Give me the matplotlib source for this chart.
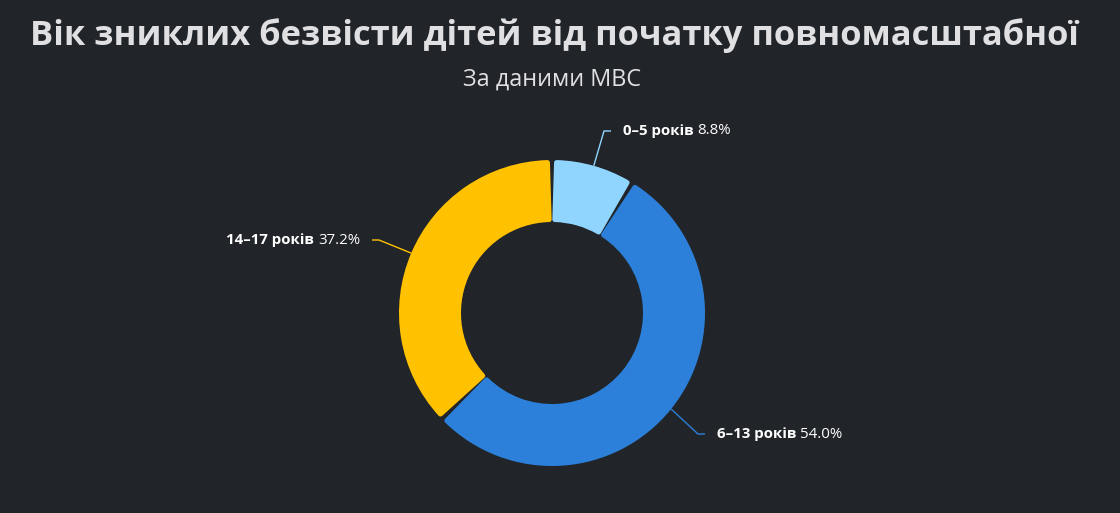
import matplotlib.pyplot as plt
import numpy as np

# Data
categories = ["0–5 років", "6–13 років", "14–17 років"]
shares = [8.8, 54.0, 37.2]
colors = ["#8fd5fe", "#2c80d9", "#ffc100"]

title = "Вік зниклих безвісти дітей від початку повномасштабної"
subtitle = "За даними МВС"

BG = "#212428"
TXT = "#e0e0e3"
plt.rcParams['font.family'] = ['Open Sans', 'DejaVu Sans']

W, H = 1120, 513
fig = plt.figure(figsize=(W / 100, H / 100), dpi=100, facecolor=BG)
ax = fig.add_axes([0, 0, 1, 1])
ax.set_facecolor(BG)

cx, cy = 552, H - 313
r_out, ring = 153, 62

wedges, _ = ax.pie(shares, colors=colors, startangle=90, counterclock=False,
                   radius=r_out, center=(cx, cy), frame=True,
                   wedgeprops=dict(width=ring))
ax.set_xlim(0, W)
ax.set_ylim(0, H)
ax.axis("off")

# rounded corners + small gaps between slices
e = 2.5
for w in wedges:
    t1, t2 = w.theta1, w.theta2
    d = np.degrees((1.2 + e) / (r_out - ring / 2))
    w.set_theta1(t1 + d)
    w.set_theta2(t2 - d)
    w.set_radius(r_out - e)
    w.set_width(ring - 2 * e)
    w.set_edgecolor(w.get_facecolor())
    w.set_linewidth(2 * e * 72 / 100)
    w.set_joinstyle("round")

# label positions (pixel layout)
label_pos = [(611, H - 131, "left"), (705, H - 434, "left"), (372, H - 240, "right")]
fig.canvas.draw()
renderer = fig.canvas.get_renderer()
for w, cat, val, col, (lx, ly, side) in zip(wedges, categories, shares, colors, label_pos):
    ang = np.radians((w.theta1 + w.theta2) / 2)
    px = cx + r_out * np.cos(ang)
    py = cy + r_out * np.sin(ang)
    sgn = 1 if side == "left" else -1
    ex = lx - sgn * 7
    ax.plot([px, ex, lx], [py, ly, ly], color=col, lw=1, solid_capstyle="butt")
    tx = lx + sgn * 12
    if side == "left":
        t1 = ax.text(tx, ly, cat, color="white", fontsize=10.8, fontweight="bold",
                     ha="left", va="center")
        bb = t1.get_window_extent(renderer)
        ax.text(bb.x1 + 4, ly, f"{val:.1f}%", color="white", fontsize=10.8,
                ha="left", va="center")
    else:
        t2 = ax.text(tx, ly, f"{val:.1f}%", color="white", fontsize=10.8,
                     ha="right", va="center")
        bb = t2.get_window_extent(renderer)
        ax.text(bb.x0 - 4, ly, cat, color="white", fontsize=10.8, fontweight="bold",
                ha="right", va="center")

fig.text(554 / W, 1 - 36 / H, title, color=TXT, fontsize=24.8, fontweight="bold",
         ha="center", va="center")
fig.text(552 / W, 1 - 80 / H, subtitle, color=TXT, fontsize=16.8,
         ha="center", va="center")

fig.savefig("out.png", dpi=100, facecolor=BG)
